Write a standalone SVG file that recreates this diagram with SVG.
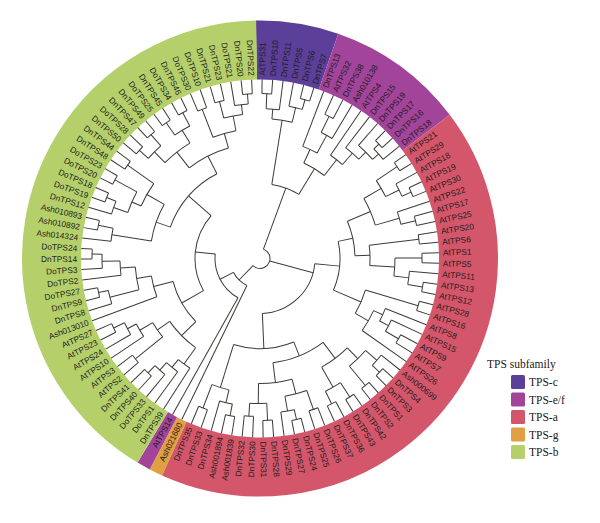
<svg xmlns="http://www.w3.org/2000/svg" width="600" height="523" viewBox="0 0 600 523">
<style>
.t path,.t circle{fill:none;stroke:#3b3b36;stroke-width:1}
.lb text{font-family:"Liberation Sans",Arial,sans-serif;font-size:8.3px;fill:#1e1e1e}
.lb .l{text-anchor:end}
.band{fill:none;stroke-width:59}
.lg text{font-family:"Liberation Serif","Times New Roman",serif;font-size:11.5px;fill:#1a1a1a}
</style>
<rect width="600" height="523" fill="#ffffff"/>
<g transform="translate(260 258.5)">
<g id="ring">
<circle class="band" r="208.5" stroke="#5b3f98" transform="rotate(-91)" stroke-dasharray="73.47 2000"/>
<circle class="band" r="208.5" stroke="#a3449b" transform="rotate(-70.81)" stroke-dasharray="122.43 2000"/>
<circle class="band" r="208.5" stroke="#d4566a" transform="rotate(-37.16)" stroke-dasharray="550.9 2000"/>
<circle class="band" r="208.5" stroke="#e09f42" transform="rotate(114.24)" stroke-dasharray="12.24 2000"/>
<circle class="band" r="208.5" stroke="#a3449b" transform="rotate(117.6)" stroke-dasharray="12.24 2000"/>
<circle class="band" r="208.5" stroke="#b5d06b" transform="rotate(120.97)" stroke-dasharray="538.7 2000"/>
</g>
<g id="connectors" class="t">
<path transform="rotate(-89.32)" d="M165 0H179"/><path transform="rotate(-85.95)" d="M165 0H179"/>
<circle r="165" transform="rotate(-89.32)" stroke-dasharray="9.71 2000"/>
<path transform="rotate(-87.64)" d="M150 0H165"/><path transform="rotate(-82.59)" d="M150 0H179"/>
<circle r="150" transform="rotate(-87.64)" stroke-dasharray="13.22 2000"/>
<path transform="rotate(-75.86)" d="M165 0H179"/><path transform="rotate(-72.5)" d="M165 0H179"/>
<circle r="165" transform="rotate(-75.86)" stroke-dasharray="9.68 2000"/>
<path transform="rotate(-79.23)" d="M155 0H179"/><path transform="rotate(-74.18)" d="M155 0H165"/>
<circle r="155" transform="rotate(-79.23)" stroke-dasharray="13.66 2000"/>
<path transform="rotate(-85.12)" d="M140 0H150"/><path transform="rotate(-76.71)" d="M140 0H155"/>
<circle r="140" transform="rotate(-85.12)" stroke-dasharray="20.55 2000"/>
<path transform="rotate(-80.92)" d="M75 0H140"/>
<path transform="rotate(-65.77)" d="M158 0H179"/><path transform="rotate(-62.4)" d="M158 0H179"/>
<circle r="158" transform="rotate(-65.77)" stroke-dasharray="9.29 2000"/>
<path transform="rotate(-64.09)" d="M140 0H158"/><path transform="rotate(-59.04)" d="M140 0H179"/>
<circle r="140" transform="rotate(-64.09)" stroke-dasharray="12.34 2000"/>
<path transform="rotate(-69.13)" d="M120 0H179"/><path transform="rotate(-61.57)" d="M120 0H140"/>
<circle r="120" transform="rotate(-69.13)" stroke-dasharray="15.83 2000"/>
<path transform="rotate(-45.58)" d="M165 0H179"/><path transform="rotate(-42.22)" d="M165 0H179"/>
<circle r="165" transform="rotate(-45.58)" stroke-dasharray="9.68 2000"/>
<path transform="rotate(-43.9)" d="M158 0H165"/><path transform="rotate(-38.85)" d="M158 0H179"/>
<circle r="158" transform="rotate(-43.9)" stroke-dasharray="13.93 2000"/>
<path transform="rotate(-48.94)" d="M150 0H179"/><path transform="rotate(-41.38)" d="M150 0H158"/>
<circle r="150" transform="rotate(-48.94)" stroke-dasharray="19.79 2000"/>
<path transform="rotate(-52.31)" d="M140 0H179"/><path transform="rotate(-45.16)" d="M140 0H150"/>
<circle r="140" transform="rotate(-52.31)" stroke-dasharray="17.47 2000"/>
<path transform="rotate(-55.67)" d="M125 0H179"/><path transform="rotate(-48.74)" d="M125 0H140"/>
<circle r="125" transform="rotate(-55.67)" stroke-dasharray="15.12 2000"/>
<path transform="rotate(-65.35)" d="M105 0H120"/><path transform="rotate(-52.21)" d="M105 0H125"/>
<circle r="105" transform="rotate(-65.35)" stroke-dasharray="24.08 2000"/>
<path transform="rotate(-58.78)" d="M75 0H105"/>
<circle r="75" transform="rotate(-80.92)" stroke-dasharray="28.98 2000"/>
<path transform="rotate(-69.85)" d="M10 0H75"/>
<path transform="rotate(-35.49)" d="M165 0H179"/><path transform="rotate(-32.12)" d="M165 0H179"/>
<circle r="165" transform="rotate(-35.49)" stroke-dasharray="9.71 2000"/>
<path transform="rotate(-25.39)" d="M165 0H179"/><path transform="rotate(-22.03)" d="M165 0H179"/>
<circle r="165" transform="rotate(-25.39)" stroke-dasharray="9.68 2000"/>
<path transform="rotate(-28.76)" d="M155 0H179"/><path transform="rotate(-23.71)" d="M155 0H165"/>
<circle r="155" transform="rotate(-28.76)" stroke-dasharray="13.66 2000"/>
<path transform="rotate(-33.81)" d="M140 0H165"/><path transform="rotate(-26.24)" d="M140 0H155"/>
<circle r="140" transform="rotate(-33.81)" stroke-dasharray="18.5 2000"/>
<path transform="rotate(-15.3)" d="M160 0H179"/><path transform="rotate(-11.94)" d="M160 0H179"/>
<circle r="160" transform="rotate(-15.3)" stroke-dasharray="9.38 2000"/>
<path transform="rotate(-18.67)" d="M145 0H179"/><path transform="rotate(-13.62)" d="M145 0H160"/>
<circle r="145" transform="rotate(-18.67)" stroke-dasharray="12.78 2000"/>
<path transform="rotate(-30.03)" d="M120 0H140"/><path transform="rotate(-16.15)" d="M120 0H145"/>
<circle r="120" transform="rotate(-30.03)" stroke-dasharray="29.07 2000"/>
<path transform="rotate(-8.57)" d="M160 0H179"/><path transform="rotate(-5.21)" d="M160 0H179"/>
<circle r="160" transform="rotate(-8.57)" stroke-dasharray="9.38 2000"/>
<path transform="rotate(-1.84)" d="M162 0H179"/><path transform="rotate(1.52)" d="M162 0H179"/>
<circle r="162" transform="rotate(-1.84)" stroke-dasharray="9.5 2000"/>
<path transform="rotate(8.25)" d="M165 0H179"/><path transform="rotate(11.62)" d="M165 0H179"/>
<circle r="165" transform="rotate(8.25)" stroke-dasharray="9.71 2000"/>
<path transform="rotate(4.89)" d="M150 0H179"/><path transform="rotate(9.94)" d="M150 0H165"/>
<circle r="150" transform="rotate(4.89)" stroke-dasharray="13.22 2000"/>
<path transform="rotate(-0.16)" d="M135 0H162"/><path transform="rotate(7.42)" d="M135 0H150"/>
<circle r="135" transform="rotate(-0.16)" stroke-dasharray="17.86 2000"/>
<path transform="rotate(-6.89)" d="M110 0H160"/><path transform="rotate(3.63)" d="M110 0H135"/>
<circle r="110" transform="rotate(-6.89)" stroke-dasharray="20.2 2000"/>
<path transform="rotate(-23.09)" d="M95 0H120"/><path transform="rotate(-1.63)" d="M95 0H110"/>
<circle r="95" transform="rotate(-23.09)" stroke-dasharray="35.58 2000"/>
<path transform="rotate(14.98)" d="M165 0H179"/><path transform="rotate(18.35)" d="M165 0H179"/>
<circle r="165" transform="rotate(14.98)" stroke-dasharray="9.71 2000"/>
<path transform="rotate(28.44)" d="M160 0H179"/><path transform="rotate(31.8)" d="M160 0H179"/>
<circle r="160" transform="rotate(28.44)" stroke-dasharray="9.38 2000"/>
<path transform="rotate(25.07)" d="M145 0H179"/><path transform="rotate(30.12)" d="M145 0H160"/>
<circle r="145" transform="rotate(25.07)" stroke-dasharray="12.78 2000"/>
<path transform="rotate(21.71)" d="M135 0H179"/><path transform="rotate(27.6)" d="M135 0H145"/>
<circle r="135" transform="rotate(21.71)" stroke-dasharray="13.88 2000"/>
<path transform="rotate(24.66)" d="M125 0H135"/><path transform="rotate(35.17)" d="M125 0H179"/>
<circle r="125" transform="rotate(24.66)" stroke-dasharray="22.93 2000"/>
<path transform="rotate(16.67)" d="M110 0H165"/><path transform="rotate(29.92)" d="M110 0H125"/>
<circle r="110" transform="rotate(16.67)" stroke-dasharray="25.44 2000"/>
<path transform="rotate(-12.36)" d="M80 0H95"/><path transform="rotate(23.3)" d="M80 0H110"/>
<circle r="80" transform="rotate(-12.36)" stroke-dasharray="49.79 2000"/>
<path transform="rotate(5.47)" d="M55 0H80"/>
<path transform="rotate(41.9)" d="M165 0H179"/><path transform="rotate(45.26)" d="M165 0H179"/>
<circle r="165" transform="rotate(41.9)" stroke-dasharray="9.68 2000"/>
<path transform="rotate(38.53)" d="M155 0H179"/><path transform="rotate(43.58)" d="M155 0H165"/>
<circle r="155" transform="rotate(38.53)" stroke-dasharray="13.66 2000"/>
<path transform="rotate(48.63)" d="M165 0H179"/><path transform="rotate(51.99)" d="M165 0H179"/>
<circle r="165" transform="rotate(48.63)" stroke-dasharray="9.68 2000"/>
<path transform="rotate(41.06)" d="M140 0H155"/><path transform="rotate(50.31)" d="M140 0H165"/>
<circle r="140" transform="rotate(41.06)" stroke-dasharray="22.6 2000"/>
<path transform="rotate(55.35)" d="M165 0H179"/><path transform="rotate(58.72)" d="M165 0H179"/>
<circle r="165" transform="rotate(55.35)" stroke-dasharray="9.71 2000"/>
<path transform="rotate(62.08)" d="M162 0H179"/><path transform="rotate(65.45)" d="M162 0H179"/>
<circle r="162" transform="rotate(62.08)" stroke-dasharray="9.53 2000"/>
<path transform="rotate(57.04)" d="M148 0H165"/><path transform="rotate(63.77)" d="M148 0H162"/>
<circle r="148" transform="rotate(57.04)" stroke-dasharray="17.38 2000"/>
<path transform="rotate(45.69)" d="M125 0H140"/><path transform="rotate(60.41)" d="M125 0H148"/>
<circle r="125" transform="rotate(45.69)" stroke-dasharray="32.11 2000"/>
<path transform="rotate(68.81)" d="M160 0H179"/><path transform="rotate(72.18)" d="M160 0H179"/>
<circle r="160" transform="rotate(68.81)" stroke-dasharray="9.41 2000"/>
<path transform="rotate(75.54)" d="M165 0H179"/><path transform="rotate(78.91)" d="M165 0H179"/>
<circle r="165" transform="rotate(75.54)" stroke-dasharray="9.71 2000"/>
<path transform="rotate(77.23)" d="M155 0H165"/><path transform="rotate(82.27)" d="M155 0H179"/>
<circle r="155" transform="rotate(77.23)" stroke-dasharray="13.63 2000"/>
<path transform="rotate(70.5)" d="M140 0H160"/><path transform="rotate(79.75)" d="M140 0H155"/>
<circle r="140" transform="rotate(70.5)" stroke-dasharray="22.6 2000"/>
<path transform="rotate(85.63)" d="M162 0H179"/><path transform="rotate(89)" d="M162 0H179"/>
<circle r="162" transform="rotate(85.63)" stroke-dasharray="9.53 2000"/>
<path transform="rotate(92.36)" d="M158 0H179"/><path transform="rotate(95.73)" d="M158 0H179"/>
<circle r="158" transform="rotate(92.36)" stroke-dasharray="9.29 2000"/>
<path transform="rotate(87.32)" d="M145 0H162"/><path transform="rotate(94.05)" d="M145 0H158"/>
<circle r="145" transform="rotate(87.32)" stroke-dasharray="17.03 2000"/>
<path transform="rotate(75.13)" d="M125 0H140"/><path transform="rotate(90.69)" d="M125 0H145"/>
<circle r="125" transform="rotate(75.13)" stroke-dasharray="33.95 2000"/>
<path transform="rotate(53.05)" d="M105 0H125"/><path transform="rotate(82.91)" d="M105 0H125"/>
<circle r="105" transform="rotate(53.05)" stroke-dasharray="54.72 2000"/>
<path transform="rotate(99.09)" d="M160 0H179"/><path transform="rotate(102.46)" d="M160 0H179"/>
<circle r="160" transform="rotate(99.09)" stroke-dasharray="9.41 2000"/>
<path transform="rotate(100.78)" d="M148 0H160"/><path transform="rotate(105.82)" d="M148 0H179"/>
<circle r="148" transform="rotate(100.78)" stroke-dasharray="13.02 2000"/>
<path transform="rotate(109.19)" d="M160 0H179"/><path transform="rotate(112.55)" d="M160 0H179"/>
<circle r="160" transform="rotate(109.19)" stroke-dasharray="9.38 2000"/>
<path transform="rotate(103.3)" d="M135 0H148"/><path transform="rotate(110.87)" d="M135 0H160"/>
<circle r="135" transform="rotate(103.3)" stroke-dasharray="17.84 2000"/>
<path transform="rotate(67.98)" d="M90 0H105"/><path transform="rotate(107.09)" d="M90 0H135"/>
<circle r="90" transform="rotate(67.98)" stroke-dasharray="61.43 2000"/>
<path transform="rotate(87.54)" d="M55 0H90"/>
<circle r="55" transform="rotate(5.47)" stroke-dasharray="78.78 2000"/>
<path transform="rotate(15)" d="M10 0H55"/>
<path transform="rotate(179.84)" d="M168 0H179"/><path transform="rotate(183.2)" d="M168 0H179"/>
<circle r="168" transform="rotate(179.84)" stroke-dasharray="9.85 2000"/>
<path transform="rotate(176.48)" d="M158 0H179"/><path transform="rotate(181.52)" d="M158 0H168"/>
<circle r="158" transform="rotate(176.48)" stroke-dasharray="13.9 2000"/>
<path transform="rotate(173.11)" d="M140 0H179"/><path transform="rotate(179)" d="M140 0H158"/>
<circle r="140" transform="rotate(173.11)" stroke-dasharray="14.39 2000"/>
<path transform="rotate(166.38)" d="M165 0H179"/><path transform="rotate(169.75)" d="M165 0H179"/>
<circle r="165" transform="rotate(166.38)" stroke-dasharray="9.71 2000"/>
<path transform="rotate(163.02)" d="M155 0H179"/><path transform="rotate(168.07)" d="M155 0H165"/>
<circle r="155" transform="rotate(163.02)" stroke-dasharray="13.66 2000"/>
<path transform="rotate(165.55)" d="M125 0H155"/><path transform="rotate(176.06)" d="M125 0H140"/>
<circle r="125" transform="rotate(165.55)" stroke-dasharray="22.93 2000"/>
<path transform="rotate(159.65)" d="M110 0H179"/><path transform="rotate(170.81)" d="M110 0H125"/>
<circle r="110" transform="rotate(159.65)" stroke-dasharray="21.43 2000"/>
<path transform="rotate(152.92)" d="M162 0H179"/><path transform="rotate(156.29)" d="M162 0H179"/>
<circle r="162" transform="rotate(152.92)" stroke-dasharray="9.53 2000"/>
<path transform="rotate(149.56)" d="M150 0H179"/><path transform="rotate(154.61)" d="M150 0H162"/>
<circle r="150" transform="rotate(149.56)" stroke-dasharray="13.22 2000"/>
<path transform="rotate(146.2)" d="M140 0H179"/><path transform="rotate(152.09)" d="M140 0H150"/>
<circle r="140" transform="rotate(146.2)" stroke-dasharray="14.39 2000"/>
<path transform="rotate(139.47)" d="M160 0H179"/><path transform="rotate(142.83)" d="M160 0H179"/>
<circle r="160" transform="rotate(139.47)" stroke-dasharray="9.38 2000"/>
<path transform="rotate(141.15)" d="M125 0H160"/><path transform="rotate(149.15)" d="M125 0H140"/>
<circle r="125" transform="rotate(141.15)" stroke-dasharray="17.45 2000"/>
<path transform="rotate(132.74)" d="M160 0H179"/><path transform="rotate(136.1)" d="M160 0H179"/>
<circle r="160" transform="rotate(132.74)" stroke-dasharray="9.38 2000"/>
<path transform="rotate(129.37)" d="M150 0H179"/><path transform="rotate(134.42)" d="M150 0H160"/>
<circle r="150" transform="rotate(129.37)" stroke-dasharray="13.22 2000"/>
<path transform="rotate(126.01)" d="M140 0H179"/><path transform="rotate(131.9)" d="M140 0H150"/>
<circle r="140" transform="rotate(126.01)" stroke-dasharray="14.39 2000"/>
<path transform="rotate(122.64)" d="M130 0H179"/><path transform="rotate(128.96)" d="M130 0H140"/>
<circle r="130" transform="rotate(122.64)" stroke-dasharray="14.34 2000"/>
<path transform="rotate(125.8)" d="M110 0H130"/><path transform="rotate(145.15)" d="M110 0H125"/>
<circle r="110" transform="rotate(125.8)" stroke-dasharray="37.15 2000"/>
<path transform="rotate(135.48)" d="M90 0H110"/><path transform="rotate(165.23)" d="M90 0H110"/>
<circle r="90" transform="rotate(135.48)" stroke-dasharray="46.73 2000"/>
<path transform="rotate(189.93)" d="M165 0H179"/><path transform="rotate(193.3)" d="M165 0H179"/>
<circle r="165" transform="rotate(189.93)" stroke-dasharray="9.71 2000"/>
<path transform="rotate(186.57)" d="M150 0H179"/><path transform="rotate(191.62)" d="M150 0H165"/>
<circle r="150" transform="rotate(186.57)" stroke-dasharray="13.22 2000"/>
<path transform="rotate(200.03)" d="M165 0H179"/><path transform="rotate(203.39)" d="M165 0H179"/>
<circle r="165" transform="rotate(200.03)" stroke-dasharray="9.68 2000"/>
<path transform="rotate(196.66)" d="M155 0H179"/><path transform="rotate(201.71)" d="M155 0H165"/>
<circle r="155" transform="rotate(196.66)" stroke-dasharray="13.66 2000"/>
<path transform="rotate(206.76)" d="M165 0H179"/><path transform="rotate(210.12)" d="M165 0H179"/>
<circle r="165" transform="rotate(206.76)" stroke-dasharray="9.68 2000"/>
<path transform="rotate(199.19)" d="M140 0H155"/><path transform="rotate(208.44)" d="M140 0H165"/>
<circle r="140" transform="rotate(199.19)" stroke-dasharray="22.6 2000"/>
<path transform="rotate(213.49)" d="M162 0H179"/><path transform="rotate(216.85)" d="M162 0H179"/>
<circle r="162" transform="rotate(213.49)" stroke-dasharray="9.5 2000"/>
<path transform="rotate(203.82)" d="M130 0H140"/><path transform="rotate(215.17)" d="M130 0H162"/>
<circle r="130" transform="rotate(203.82)" stroke-dasharray="25.75 2000"/>
<path transform="rotate(189.1)" d="M110 0H150"/><path transform="rotate(209.5)" d="M110 0H130"/>
<circle r="110" transform="rotate(189.1)" stroke-dasharray="39.16 2000"/>
<path transform="rotate(220.21)" d="M162 0H179"/><path transform="rotate(223.58)" d="M162 0H179"/>
<circle r="162" transform="rotate(220.21)" stroke-dasharray="9.53 2000"/>
<path transform="rotate(226.94)" d="M165 0H179"/><path transform="rotate(230.31)" d="M165 0H179"/>
<circle r="165" transform="rotate(226.94)" stroke-dasharray="9.71 2000"/>
<path transform="rotate(221.9)" d="M150 0H162"/><path transform="rotate(228.63)" d="M150 0H165"/>
<circle r="150" transform="rotate(221.9)" stroke-dasharray="17.62 2000"/>
<path transform="rotate(233.67)" d="M165 0H179"/><path transform="rotate(237.04)" d="M165 0H179"/>
<circle r="165" transform="rotate(233.67)" stroke-dasharray="9.71 2000"/>
<path transform="rotate(240.4)" d="M165 0H179"/><path transform="rotate(243.77)" d="M165 0H179"/>
<circle r="165" transform="rotate(240.4)" stroke-dasharray="9.71 2000"/>
<path transform="rotate(235.36)" d="M150 0H165"/><path transform="rotate(242.09)" d="M150 0H165"/>
<circle r="150" transform="rotate(235.36)" stroke-dasharray="17.62 2000"/>
<path transform="rotate(225.27)" d="M135 0H150"/><path transform="rotate(238.73)" d="M135 0H150"/>
<circle r="135" transform="rotate(225.27)" stroke-dasharray="31.71 2000"/>
<path transform="rotate(247.13)" d="M160 0H179"/><path transform="rotate(250.49)" d="M160 0H179"/>
<circle r="160" transform="rotate(247.13)" stroke-dasharray="9.38 2000"/>
<path transform="rotate(253.86)" d="M162 0H179"/><path transform="rotate(257.22)" d="M162 0H179"/>
<circle r="162" transform="rotate(253.86)" stroke-dasharray="9.5 2000"/>
<path transform="rotate(263.95)" d="M165 0H179"/><path transform="rotate(267.32)" d="M165 0H179"/>
<circle r="165" transform="rotate(263.95)" stroke-dasharray="9.71 2000"/>
<path transform="rotate(260.59)" d="M155 0H179"/><path transform="rotate(265.64)" d="M155 0H165"/>
<circle r="155" transform="rotate(260.59)" stroke-dasharray="13.66 2000"/>
<path transform="rotate(255.54)" d="M145 0H162"/><path transform="rotate(263.12)" d="M145 0H155"/>
<circle r="145" transform="rotate(255.54)" stroke-dasharray="19.18 2000"/>
<path transform="rotate(248.81)" d="M130 0H160"/><path transform="rotate(259.33)" d="M130 0H145"/>
<circle r="130" transform="rotate(248.81)" stroke-dasharray="23.87 2000"/>
<path transform="rotate(232)" d="M115 0H135"/><path transform="rotate(254.07)" d="M115 0H130"/>
<circle r="115" transform="rotate(232)" stroke-dasharray="44.3 2000"/>
<path transform="rotate(199.3)" d="M95 0H110"/><path transform="rotate(243.04)" d="M95 0H115"/>
<circle r="95" transform="rotate(199.3)" stroke-dasharray="72.52 2000"/>
<path transform="rotate(150.36)" d="M65 0H90"/><path transform="rotate(221.17)" d="M65 0H95"/>
<circle r="65" transform="rotate(150.36)" stroke-dasharray="80.33 2000"/>
<path transform="rotate(119.28)" d="M45 0H179"/><path transform="rotate(185.77)" d="M45 0H65"/>
<circle r="45" transform="rotate(119.28)" stroke-dasharray="52.22 2000"/>
<path transform="rotate(115.91)" d="M30 0H179"/><path transform="rotate(152.53)" d="M30 0H45"/>
<circle r="30" transform="rotate(115.91)" stroke-dasharray="19.17 2000"/>
<path transform="rotate(134.22)" d="M10 0H30"/>
<circle r="10" transform="rotate(-69.85)" stroke-dasharray="35.62 2000"/>
</g>
<g id="leaves" class="lb">
<g id="n0"><text transform="rotate(-89.32)" x="183" dy=".35em">AtTPS31</text></g>
<g id="n1"><text transform="rotate(-85.95)" x="183" dy=".35em">DnTPS10</text></g>
<g id="n2"><text transform="rotate(-82.59)" x="183" dy=".35em">DnTPS11</text></g>
<g id="n3"><text transform="rotate(-79.23)" x="183" dy=".35em">DnTPS5</text></g>
<g id="n4"><text transform="rotate(-75.86)" x="183" dy=".35em">DnTPS6</text></g>
<g id="n5"><text transform="rotate(-72.5)" x="183" dy=".35em">DnTPS7</text></g>
<g id="n6"><text transform="rotate(-69.13)" x="183" dy=".35em">DnTPS13</text></g>
<g id="n7"><text transform="rotate(-65.77)" x="183" dy=".35em">AtTPS32</text></g>
<g id="n8"><text transform="rotate(-62.4)" x="183" dy=".35em">DnTPS38</text></g>
<g id="n9"><text transform="rotate(-59.04)" x="183" dy=".35em">Ash010138</text></g>
<g id="n10"><text transform="rotate(-55.67)" x="183" dy=".35em">AtTPS4</text></g>
<g id="n11"><text transform="rotate(-52.31)" x="183" dy=".35em">DnTPS15</text></g>
<g id="n12"><text transform="rotate(-48.94)" x="183" dy=".35em">DnTPS19</text></g>
<g id="n13"><text transform="rotate(-45.58)" x="183" dy=".35em">DnTPS17</text></g>
<g id="n14"><text transform="rotate(-42.22)" x="183" dy=".35em">DnTPS16</text></g>
<g id="n15"><text transform="rotate(-38.85)" x="183" dy=".35em">DnTPS18</text></g>
<g id="n16"><text transform="rotate(-35.49)" x="183" dy=".35em">AtTPS21</text></g>
<g id="n17"><text transform="rotate(-32.12)" x="183" dy=".35em">AtTPS29</text></g>
<g id="n18"><text transform="rotate(-28.76)" x="183" dy=".35em">AtTPS18</text></g>
<g id="n19"><text transform="rotate(-25.39)" x="183" dy=".35em">AtTPS19</text></g>
<g id="n20"><text transform="rotate(-22.03)" x="183" dy=".35em">AtTPS30</text></g>
<g id="n21"><text transform="rotate(-18.67)" x="183" dy=".35em">AtTPS22</text></g>
<g id="n22"><text transform="rotate(-15.3)" x="183" dy=".35em">AtTPS17</text></g>
<g id="n23"><text transform="rotate(-11.94)" x="183" dy=".35em">AtTPS25</text></g>
<g id="n24"><text transform="rotate(-8.57)" x="183" dy=".35em">AtTPS20</text></g>
<g id="n25"><text transform="rotate(-5.21)" x="183" dy=".35em">AtTPS6</text></g>
<g id="n26"><text transform="rotate(-1.84)" x="183" dy=".35em">AtTPS1</text></g>
<g id="n27"><text transform="rotate(1.52)" x="183" dy=".35em">AtTPS5</text></g>
<g id="n28"><text transform="rotate(4.89)" x="183" dy=".35em">AtTPS11</text></g>
<g id="n29"><text transform="rotate(8.25)" x="183" dy=".35em">AtTPS13</text></g>
<g id="n30"><text transform="rotate(11.62)" x="183" dy=".35em">AtTPS12</text></g>
<g id="n31"><text transform="rotate(14.98)" x="183" dy=".35em">AtTPS28</text></g>
<g id="n32"><text transform="rotate(18.35)" x="183" dy=".35em">AtTPS16</text></g>
<g id="n33"><text transform="rotate(21.71)" x="183" dy=".35em">AtTPS8</text></g>
<g id="n34"><text transform="rotate(25.07)" x="183" dy=".35em">AtTPS15</text></g>
<g id="n35"><text transform="rotate(28.44)" x="183" dy=".35em">AtTPS9</text></g>
<g id="n36"><text transform="rotate(31.8)" x="183" dy=".35em">AtTPS7</text></g>
<g id="n37"><text transform="rotate(35.17)" x="183" dy=".35em">AtTPS26</text></g>
<g id="n38"><text transform="rotate(38.53)" x="183" dy=".35em">Ash000699</text></g>
<g id="n39"><text transform="rotate(41.9)" x="183" dy=".35em">DnTPS4</text></g>
<g id="n40"><text transform="rotate(45.26)" x="183" dy=".35em">DnTPS3</text></g>
<g id="n41"><text transform="rotate(48.63)" x="183" dy=".35em">DnTPS1</text></g>
<g id="n42"><text transform="rotate(51.99)" x="183" dy=".35em">DnTPS2</text></g>
<g id="n43"><text transform="rotate(55.35)" x="183" dy=".35em">DnTPS42</text></g>
<g id="n44"><text transform="rotate(58.72)" x="183" dy=".35em">DnTPS43</text></g>
<g id="n45"><text transform="rotate(62.08)" x="183" dy=".35em">DnTPS36</text></g>
<g id="n46"><text transform="rotate(65.45)" x="183" dy=".35em">DnTPS37</text></g>
<g id="n47"><text transform="rotate(68.81)" x="183" dy=".35em">DnTPS26</text></g>
<g id="n48"><text transform="rotate(72.18)" x="183" dy=".35em">DnTPS25</text></g>
<g id="n49"><text transform="rotate(75.54)" x="183" dy=".35em">DnTPS24</text></g>
<g id="n50"><text transform="rotate(78.91)" x="183" dy=".35em">DnTPS27</text></g>
<g id="n51"><text transform="rotate(82.27)" x="183" dy=".35em">DnTPS29</text></g>
<g id="n52"><text transform="rotate(85.63)" x="183" dy=".35em">DnTPS28</text></g>
<g id="n53"><text transform="rotate(89)" x="183" dy=".35em">DnTPS31</text></g>
<g id="n54"><text class="l" transform="rotate(272.36)" x="-183" dy=".35em">DnTPS30</text></g>
<g id="n55"><text class="l" transform="rotate(275.73)" x="-183" dy=".35em">DnTPS32</text></g>
<g id="n56"><text class="l" transform="rotate(279.09)" x="-183" dy=".35em">Ash001839</text></g>
<g id="n57"><text class="l" transform="rotate(282.46)" x="-183" dy=".35em">Ash001894</text></g>
<g id="n58"><text class="l" transform="rotate(285.82)" x="-183" dy=".35em">DnTPS34</text></g>
<g id="n59"><text class="l" transform="rotate(289.19)" x="-183" dy=".35em">DnTPS33</text></g>
<g id="n60"><text class="l" transform="rotate(292.55)" x="-183" dy=".35em">DnTPS35</text></g>
<g id="n61"><text class="l" transform="rotate(295.91)" x="-183" dy=".35em">Ash021680</text></g>
<g id="n62"><text class="l" transform="rotate(299.28)" x="-183" dy=".35em">AtTPS14</text></g>
<g id="n63"><text class="l" transform="rotate(302.64)" x="-183" dy=".35em">DnTPS39</text></g>
<g id="n64"><text class="l" transform="rotate(306.01)" x="-183" dy=".35em">DoTPS1</text></g>
<g id="n65"><text class="l" transform="rotate(309.37)" x="-183" dy=".35em">DoTPS33</text></g>
<g id="n66"><text class="l" transform="rotate(312.74)" x="-183" dy=".35em">DnTPS40</text></g>
<g id="n67"><text class="l" transform="rotate(316.1)" x="-183" dy=".35em">DnTPS41</text></g>
<g id="n68"><text class="l" transform="rotate(319.47)" x="-183" dy=".35em">AtTPS2</text></g>
<g id="n69"><text class="l" transform="rotate(322.83)" x="-183" dy=".35em">AtTPS3</text></g>
<g id="n70"><text class="l" transform="rotate(326.2)" x="-183" dy=".35em">AtTPS10</text></g>
<g id="n71"><text class="l" transform="rotate(329.56)" x="-183" dy=".35em">AtTPS24</text></g>
<g id="n72"><text class="l" transform="rotate(332.92)" x="-183" dy=".35em">AtTPS23</text></g>
<g id="n73"><text class="l" transform="rotate(336.29)" x="-183" dy=".35em">AtTPS27</text></g>
<g id="n74"><text class="l" transform="rotate(339.65)" x="-183" dy=".35em">Ash013010</text></g>
<g id="n75"><text class="l" transform="rotate(343.02)" x="-183" dy=".35em">DnTPS8</text></g>
<g id="n76"><text class="l" transform="rotate(346.38)" x="-183" dy=".35em">DnTPS9</text></g>
<g id="n77"><text class="l" transform="rotate(349.75)" x="-183" dy=".35em">DoTPS27</text></g>
<g id="n78"><text class="l" transform="rotate(353.11)" x="-183" dy=".35em">DoTPS2</text></g>
<g id="n79"><text class="l" transform="rotate(356.48)" x="-183" dy=".35em">DoTPS3</text></g>
<g id="n80"><text class="l" transform="rotate(359.84)" x="-183" dy=".35em">DnTPS14</text></g>
<g id="n81"><text class="l" transform="rotate(3.2)" x="-183" dy=".35em">DoTPS24</text></g>
<g id="n82"><text class="l" transform="rotate(6.57)" x="-183" dy=".35em">Ash014324</text></g>
<g id="n83"><text class="l" transform="rotate(9.93)" x="-183" dy=".35em">Ash010892</text></g>
<g id="n84"><text class="l" transform="rotate(13.3)" x="-183" dy=".35em">Ash010893</text></g>
<g id="n85"><text class="l" transform="rotate(16.66)" x="-183" dy=".35em">DnTPS12</text></g>
<g id="n86"><text class="l" transform="rotate(20.03)" x="-183" dy=".35em">DoTPS19</text></g>
<g id="n87"><text class="l" transform="rotate(23.39)" x="-183" dy=".35em">DoTPS18</text></g>
<g id="n88"><text class="l" transform="rotate(26.76)" x="-183" dy=".35em">DoTPS20</text></g>
<g id="n89"><text class="l" transform="rotate(30.12)" x="-183" dy=".35em">DoTPS23</text></g>
<g id="n90"><text class="l" transform="rotate(33.49)" x="-183" dy=".35em">DnTPS48</text></g>
<g id="n91"><text class="l" transform="rotate(36.85)" x="-183" dy=".35em">DnTPS44</text></g>
<g id="n92"><text class="l" transform="rotate(40.21)" x="-183" dy=".35em">DnTPS50</text></g>
<g id="n93"><text class="l" transform="rotate(43.58)" x="-183" dy=".35em">DoTPS28</text></g>
<g id="n94"><text class="l" transform="rotate(46.94)" x="-183" dy=".35em">DnTPS47</text></g>
<g id="n95"><text class="l" transform="rotate(50.31)" x="-183" dy=".35em">DnTPS49</text></g>
<g id="n96"><text class="l" transform="rotate(53.67)" x="-183" dy=".35em">DoTPS25</text></g>
<g id="n97"><text class="l" transform="rotate(57.04)" x="-183" dy=".35em">DnTPS45</text></g>
<g id="n98"><text class="l" transform="rotate(60.4)" x="-183" dy=".35em">DoTPS34</text></g>
<g id="n99"><text class="l" transform="rotate(63.77)" x="-183" dy=".35em">DnTPS46</text></g>
<g id="n100"><text class="l" transform="rotate(67.13)" x="-183" dy=".35em">DoTPS30</text></g>
<g id="n101"><text class="l" transform="rotate(70.49)" x="-183" dy=".35em">DoTPS10</text></g>
<g id="n102"><text class="l" transform="rotate(73.86)" x="-183" dy=".35em">DnTPS21</text></g>
<g id="n103"><text class="l" transform="rotate(77.22)" x="-183" dy=".35em">DnTPS23</text></g>
<g id="n104"><text class="l" transform="rotate(80.59)" x="-183" dy=".35em">DoTPS21</text></g>
<g id="n105"><text class="l" transform="rotate(83.95)" x="-183" dy=".35em">DnTPS20</text></g>
<g id="n106"><text class="l" transform="rotate(87.32)" x="-183" dy=".35em">DnTPS22</text></g>
</g>
</g>
<g id="legend" class="lg">
<text x="487" y="368">TPS subfamily</text>
<g id="lg-c"><rect x="511" y="375" width="14" height="14" rx="1.5" fill="#5b3f98"/><text x="529" y="386">TPS-c</text></g>
<g id="lg-ef"><rect x="511" y="392.5" width="14" height="14" rx="1.5" fill="#a3449b"/><text x="529" y="403.5">TPS-e/f</text></g>
<g id="lg-a"><rect x="511" y="410" width="14" height="14" rx="1.5" fill="#d4566a"/><text x="529" y="421">TPS-a</text></g>
<g id="lg-g"><rect x="511" y="427.5" width="14" height="14" rx="1.5" fill="#e09f42"/><text x="529" y="438.5">TPS-g</text></g>
<g id="lg-b"><rect x="511" y="445" width="14" height="14" rx="1.5" fill="#b5d06b"/><text x="529" y="456">TPS-b</text></g>
</g>
</svg>
